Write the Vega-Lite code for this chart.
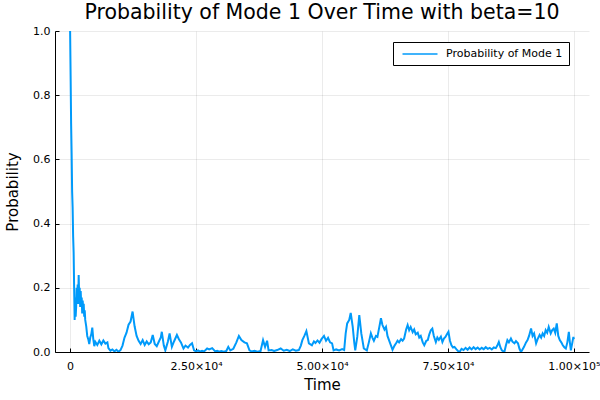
{
  "$schema": "https://vega.github.io/schema/vega-lite/v6.json",
  "autosize": "none",
  "width": 534,
  "height": 321,
  "padding": {"left": 55, "top": 31, "right": 11, "bottom": 48},
  "background": "white",
  "config": {
    "font": "DejaVu Sans",
    "view": {"stroke": null},
    "axis": {
      "domainColor": "#000000",
      "domainWidth": 1,
      "tickColor": "#000000",
      "tickSize": -4,
      "gridColor": "#000000",
      "gridOpacity": 0.08,
      "gridWidth": 1,
      "labelFont": "DejaVu Sans",
      "labelFontSize": 11,
      "labelColor": "#000000",
      "titleFont": "DejaVu Sans",
      "titleFontSize": 15,
      "titleFontWeight": "normal",
      "titleColor": "#000000"
    }
  },
  "title": {
    "text": "Probability of Mode 1 Over Time with beta=10",
    "font": "DejaVu Sans",
    "fontSize": 20.5,
    "fontWeight": "normal",
    "color": "#000000",
    "anchor": "middle",
    "offset": 2
  },
  "data": {
    "values": [
      {"t":0,"p":1.0},{"t":100,"p":0.86},{"t":200,"p":0.71},{"t":300,"p":0.62},{"t":400,"p":0.5},{"t":500,"p":0.45},{"t":600,"p":0.36},{"t":700,"p":0.31},{"t":800,"p":0.2},{"t":900,"p":0.1},
      {"t":1000,"p":0.17},{"t":1100,"p":0.11},{"t":1200,"p":0.14},{"t":1300,"p":0.2},{"t":1400,"p":0.16},{"t":1500,"p":0.21},{"t":1600,"p":0.15},{"t":1700,"p":0.24},{"t":1800,"p":0.17},{"t":1900,"p":0.2},
      {"t":2000,"p":0.14},{"t":2100,"p":0.19},{"t":2200,"p":0.15},{"t":2300,"p":0.17},{"t":2400,"p":0.12},{"t":2500,"p":0.16},{"t":2600,"p":0.13},{"t":2700,"p":0.15},{"t":2800,"p":0.11},{"t":2900,"p":0.13},
      {"t":3000,"p":0.1},{"t":3200,"p":0.08},{"t":3400,"p":0.05},{"t":3600,"p":0.04},{"t":3800,"p":0.025},{"t":4000,"p":0.045},{"t":4200,"p":0.055},{"t":4400,"p":0.076},{"t":4600,"p":0.04},{"t":4800,"p":0.018},
      {"t":5000,"p":0.032},{"t":5400,"p":0.022},{"t":5800,"p":0.035},{"t":6200,"p":0.024},{"t":6600,"p":0.036},{"t":7000,"p":0.026},{"t":7400,"p":0.03},{"t":7600,"p":0.012},{"t":8000,"p":0.004},{"t":8400,"p":0.008},
      {"t":8800,"p":0.002},{"t":9200,"p":0.007},{"t":9600,"p":0.001},{"t":10000,"p":0.006},{"t":10400,"p":0.02},{"t":10800,"p":0.045},{"t":11200,"p":0.06},{"t":11600,"p":0.085},{"t":12000,"p":0.095},{"t":12400,"p":0.126},
      {"t":12800,"p":0.08},{"t":13200,"p":0.05},{"t":13600,"p":0.035},{"t":14000,"p":0.025},{"t":14400,"p":0.037},{"t":14800,"p":0.022},{"t":15200,"p":0.033},{"t":15600,"p":0.024},{"t":16000,"p":0.03},{"t":16400,"p":0.053},
      {"t":16800,"p":0.025},{"t":17200,"p":0.018},{"t":17600,"p":0.032},{"t":18000,"p":0.045},{"t":18200,"p":0.063},{"t":18600,"p":0.02},{"t":18900,"p":0.005},{"t":19400,"p":0.032},{"t":19750,"p":0.058},{"t":20200,"p":0.016},
      {"t":20600,"p":0.032},{"t":21200,"p":0.053},{"t":21600,"p":0.04},{"t":22000,"p":0.03},{"t":22500,"p":0.011},{"t":22900,"p":0.02},{"t":23400,"p":0.014},{"t":23800,"p":0.022},{"t":24200,"p":0.027},{"t":24600,"p":0.005},
      {"t":25000,"p":0.002},{"t":25400,"p":0.005},{"t":25800,"p":0.001},{"t":26200,"p":0.004},{"t":26600,"p":0.002},{"t":27200,"p":0.011},{"t":27600,"p":0.008},{"t":28200,"p":0.012},{"t":28800,"p":0.002},{"t":29200,"p":0.004},
      {"t":29600,"p":0.001},{"t":30000,"p":0.003},{"t":30500,"p":0.001},{"t":31000,"p":0.003},{"t":31400,"p":0.016},{"t":31800,"p":0.005},{"t":32400,"p":0.01},{"t":33000,"p":0.03},{"t":33500,"p":0.05},{"t":34000,"p":0.037},
      {"t":34600,"p":0.03},{"t":35100,"p":0.027},{"t":35600,"p":0.005},{"t":36000,"p":0.002},{"t":36600,"p":0.004},{"t":37200,"p":0.001},{"t":37800,"p":0.003},{"t":38300,"p":0.037},{"t":38700,"p":0.016},{"t":39100,"p":0.035},
      {"t":39400,"p":0.005},{"t":40000,"p":0.006},{"t":40500,"p":0.003},{"t":41100,"p":0.006},{"t":41800,"p":0.011},{"t":42400,"p":0.004},{"t":43000,"p":0.007},{"t":43600,"p":0.003},{"t":44200,"p":0.008},{"t":44800,"p":0.004},
      {"t":45400,"p":0.006},{"t":45800,"p":0.02},{"t":46100,"p":0.037},{"t":46500,"p":0.05},{"t":46900,"p":0.065},{"t":47400,"p":0.027},{"t":48000,"p":0.021},{"t":48400,"p":0.033},{"t":48700,"p":0.028},{"t":49100,"p":0.036},
      {"t":49500,"p":0.029},{"t":49900,"p":0.04},{"t":50400,"p":0.05},{"t":50800,"p":0.035},{"t":51200,"p":0.044},{"t":51600,"p":0.03},{"t":52000,"p":0.027},{"t":52300,"p":0.005},{"t":52800,"p":0.008},{"t":53400,"p":0.005},
      {"t":54000,"p":0.009},{"t":54400,"p":0.006},{"t":54700,"p":0.058},{"t":55000,"p":0.089},{"t":55400,"p":0.1},{"t":55700,"p":0.122},{"t":56100,"p":0.078},{"t":56400,"p":0.03},{"t":56600,"p":0.005},{"t":57000,"p":0.047},
      {"t":57400,"p":0.115},{"t":57800,"p":0.058},{"t":58300,"p":0.011},{"t":58900,"p":0.005},{"t":59300,"p":0.03},{"t":59700,"p":0.058},{"t":60000,"p":0.045},{"t":60300,"p":0.035},{"t":60700,"p":0.05},{"t":61000,"p":0.047},
      {"t":61400,"p":0.08},{"t":61700,"p":0.105},{"t":62000,"p":0.084},{"t":62400,"p":0.07},{"t":62700,"p":0.078},{"t":63000,"p":0.05},{"t":63300,"p":0.037},{"t":63700,"p":0.02},{"t":64000,"p":0.007},{"t":64400,"p":0.02},
      {"t":64700,"p":0.027},{"t":65000,"p":0.035},{"t":65300,"p":0.03},{"t":65700,"p":0.04},{"t":66000,"p":0.035},{"t":66300,"p":0.042},{"t":66700,"p":0.07},{"t":67000,"p":0.084},{"t":67300,"p":0.068},{"t":67600,"p":0.078},
      {"t":68000,"p":0.062},{"t":68300,"p":0.07},{"t":68600,"p":0.055},{"t":69000,"p":0.06},{"t":69300,"p":0.045},{"t":69600,"p":0.05},{"t":70000,"p":0.03},{"t":70300,"p":0.021},{"t":70700,"p":0.035},{"t":71000,"p":0.037},
      {"t":71300,"p":0.055},{"t":71600,"p":0.068},{"t":71900,"p":0.073},{"t":72200,"p":0.05},{"t":72600,"p":0.031},{"t":72900,"p":0.045},{"t":73200,"p":0.038},{"t":73600,"p":0.048},{"t":73900,"p":0.031},{"t":74200,"p":0.042},
      {"t":74500,"p":0.047},{"t":74800,"p":0.055},{"t":75100,"p":0.063},{"t":75400,"p":0.035},{"t":75700,"p":0.021},{"t":76000,"p":0.014},{"t":76300,"p":0.016},{"t":76700,"p":0.008},{"t":77000,"p":0.003},{"t":77300,"p":0.0},
      {"t":77700,"p":0.01},{"t":78100,"p":0.006},{"t":78500,"p":0.013},{"t":78900,"p":0.007},{"t":79300,"p":0.014},{"t":79700,"p":0.008},{"t":80100,"p":0.015},{"t":80500,"p":0.009},{"t":80900,"p":0.014},{"t":81300,"p":0.008},
      {"t":81700,"p":0.013},{"t":82100,"p":0.009},{"t":82500,"p":0.015},{"t":82900,"p":0.01},{"t":83300,"p":0.013},{"t":83700,"p":0.008},{"t":84100,"p":0.014},{"t":84500,"p":0.012},{"t":84800,"p":0.02},{"t":85100,"p":0.031},
      {"t":85400,"p":0.015},{"t":85700,"p":0.005},{"t":86200,"p":0.0},{"t":86500,"p":0.02},{"t":86800,"p":0.037},{"t":87100,"p":0.03},{"t":87500,"p":0.042},{"t":87800,"p":0.032},{"t":88200,"p":0.027},{"t":88500,"p":0.034},
      {"t":88900,"p":0.027},{"t":89200,"p":0.01},{"t":89500,"p":0.0},{"t":89800,"p":0.008},{"t":90100,"p":0.016},{"t":90500,"p":0.03},{"t":90800,"p":0.037},{"t":91100,"p":0.05},{"t":91500,"p":0.073},{"t":91800,"p":0.05},
      {"t":92100,"p":0.058},{"t":92500,"p":0.027},{"t":92800,"p":0.04},{"t":93200,"p":0.053},{"t":93500,"p":0.045},{"t":93800,"p":0.058},{"t":94100,"p":0.05},{"t":94400,"p":0.068},{"t":94700,"p":0.06},{"t":95000,"p":0.078},
      {"t":95400,"p":0.058},{"t":95700,"p":0.068},{"t":96000,"p":0.073},{"t":96300,"p":0.06},{"t":96600,"p":0.089},{"t":96900,"p":0.05},{"t":97200,"p":0.037},{"t":97500,"p":0.03},{"t":97800,"p":0.021},{"t":98100,"p":0.015},
      {"t":98400,"p":0.011},{"t":98700,"p":0.03},{"t":99000,"p":0.063},{"t":99200,"p":0.03},{"t":99400,"p":0.005},{"t":99700,"p":0.03},{"t":99900,"p":0.047},{"t":100000,"p":0.04}
    ]
  },
  "mark": {"type": "line", "strokeWidth": 2, "clip": true},
  "encoding": {
    "x": {
      "field": "t",
      "type": "quantitative",
      "scale": {"domain": [-3000, 103000], "nice": false, "zero": false},
      "axis": {
        "title": "Time",
        "values": [0, 25000, 50000, 75000, 100000],
        "labelExpr": "datum.value == 0 ? '0' : (datum.value >= 100000 ? format(datum.value / 100000, '.2f') + '×10⁵' : format(datum.value / 10000, '.2f') + '×10⁴')",
        "labelPadding": 12,
        "titlePadding": 6
      }
    },
    "y": {
      "field": "p",
      "type": "quantitative",
      "scale": {"domain": [0, 1], "nice": false},
      "axis": {
        "title": "Probability",
        "values": [0, 0.2, 0.4, 0.6, 0.8, 1.0],
        "format": ".1f",
        "labelPadding": 9,
        "titlePadding": 12
      }
    },
    "color": {
      "datum": "Probability of Mode 1",
      "scale": {"range": ["#009AFA"]},
      "legend": {
        "title": null,
        "orient": "none",
        "legendX": 338,
        "legendY": 11,
        "symbolType": "M-3.5,0L3.5,0",
        "symbolSize": 100,
        "symbolOffset": 15,
        "symbolStrokeWidth": 1.5,
        "labelOffset": 20,
        "labelFontSize": 11,
        "labelFont": "DejaVu Sans",
        "labelColor": "#000000",
        "strokeColor": "#000000",
        "fillColor": "white",
        "padding": 6
      }
    }
  }
}
